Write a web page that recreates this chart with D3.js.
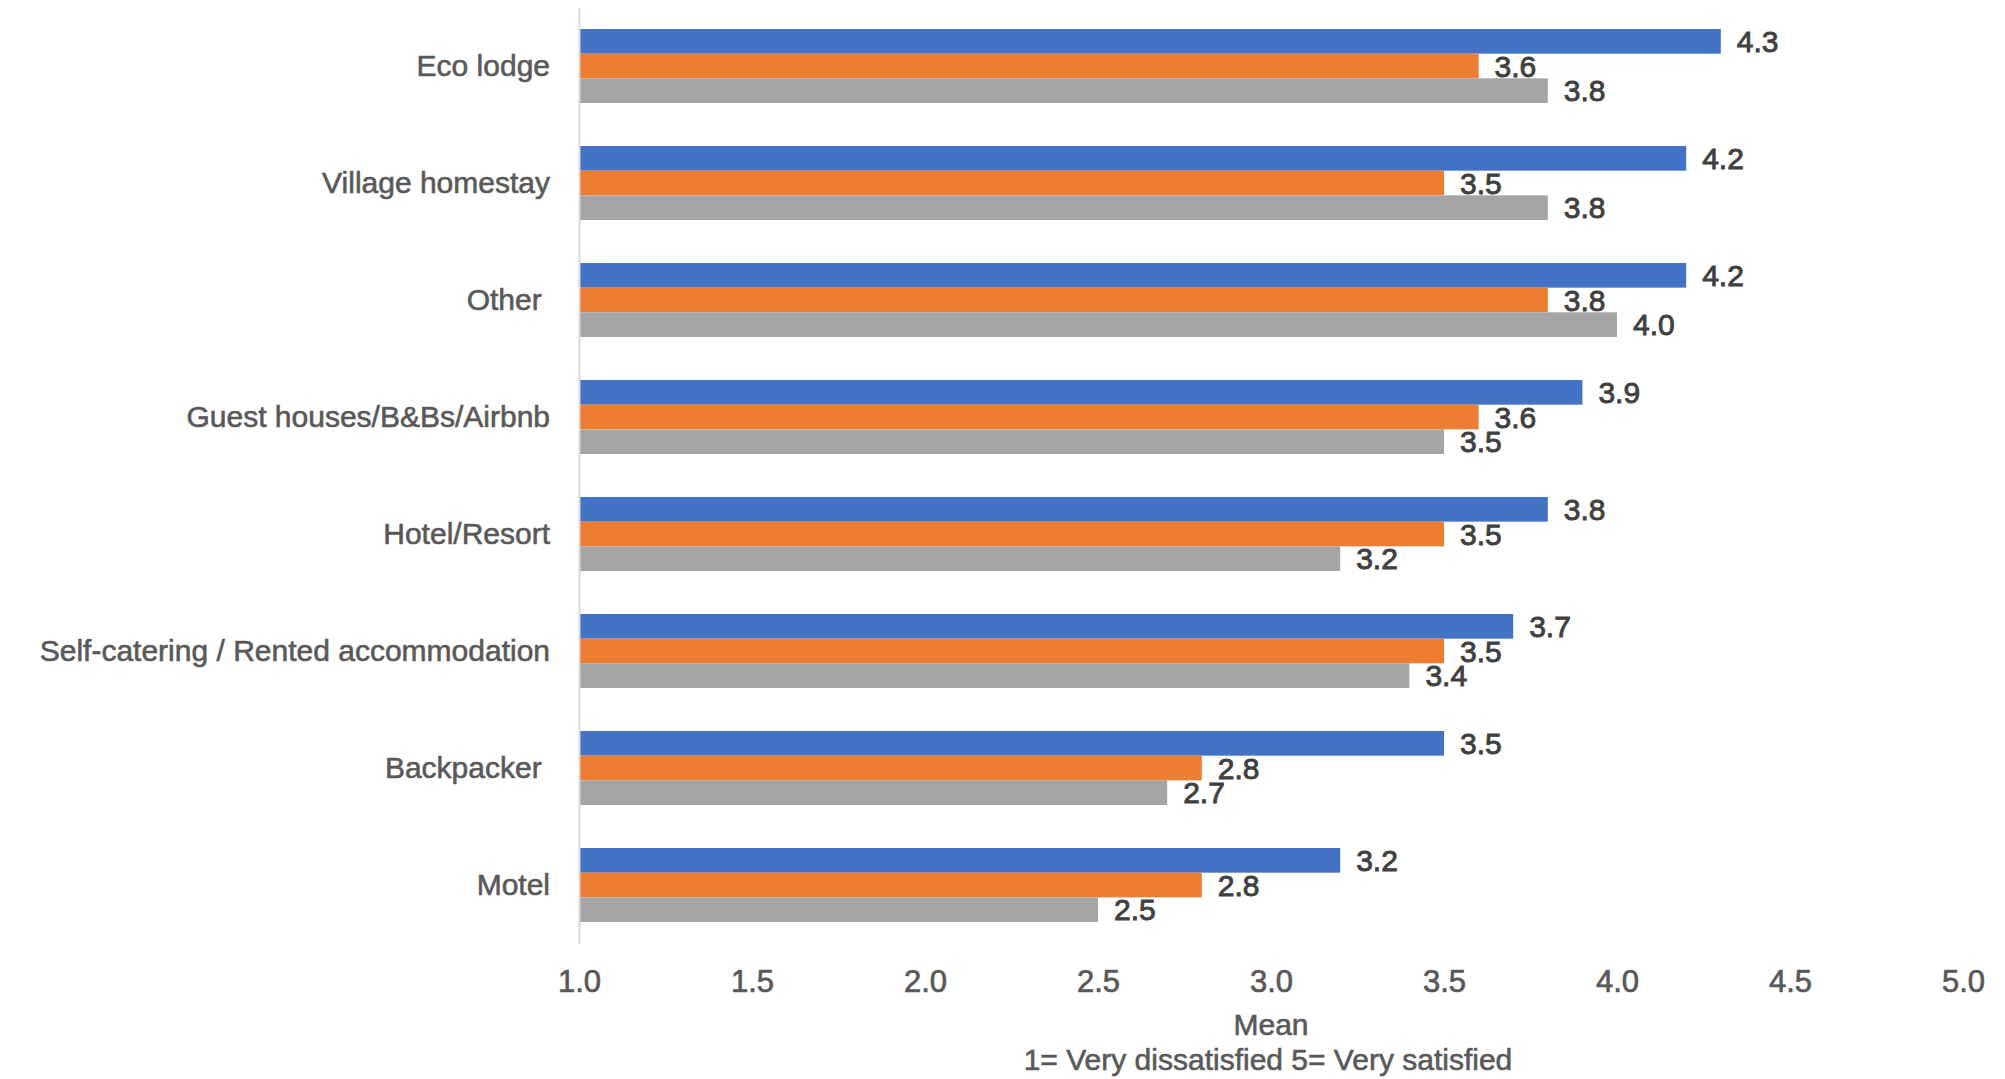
<!DOCTYPE html>
<html>
<head>
<meta charset="utf-8">
<script src="https://cdn.jsdelivr.net/npm/d3@7"></script>
<style>
  html, body { margin: 0; padding: 0; background: #ffffff; }
  svg { display: block; font-family: "Liberation Sans", Arial, sans-serif; }
  .cat text { white-space: pre; }
</style>
</head>
<body>
<svg id="chart" width="2005" height="1079"></svg>
<script>
// Accommodation types, top to bottom
const categories = [
  "Eco lodge",
  "Village homestay",
  "Other ",
  "Guest houses/B&Bs/Airbnb",
  "Hotel/Resort",
  "Self-catering / Rented accommodation",
  "Backpacker ",
  "Motel"
];

// Mean satisfaction per accommodation type, one array per series
const seriesBlue   = [4.3, 4.2, 4.2, 3.9, 3.8, 3.7, 3.5, 3.2];
const seriesOrange = [3.6, 3.5, 3.8, 3.6, 3.5, 3.5, 2.8, 2.8];
const seriesGrey   = [3.8, 3.8, 4.0, 3.5, 3.2, 3.4, 2.7, 2.5];

const seriesKeys = ["blue", "orange", "grey"];
const seriesColors = ["#4472C4", "#ED7D31", "#A5A5A5"];
const seriesValues = [seriesBlue, seriesOrange, seriesGrey];

// Value axis ticks
const xTicks = [1.0, 1.5, 2.0, 2.5, 3.0, 3.5, 4.0, 4.5, 5.0];
const axisTitle = "Mean";
const axisSubtitle = "1= Very dissatisfied 5= Very satisfied";

const svg = d3.select("#chart");

const plot = { left: 579, right: 1963, top: 7.5, bottom: 943.5 };

const x = d3.scaleLinear().domain([1, 5]).range([plot.left, plot.right]);

const y = d3.scaleBand()
  .domain(categories)
  .range([plot.top, plot.bottom])
  .paddingInner(0.3675)
  .paddingOuter(0.18375);

const ySub = d3.scaleBand()
  .domain(seriesKeys)
  .range([0, y.bandwidth()])
  .padding(0);

// Build rows: one entry per category and series
const rows = [];
categories.forEach((c, i) => {
  seriesKeys.forEach((k, j) => {
    rows.push({ cat: c, key: k, value: seriesValues[j][i], color: seriesColors[j] });
  });
});

// Bars
svg.append("g")
  .selectAll("rect")
  .data(rows)
  .join("rect")
  .attr("x", x(1))
  .attr("y", d => y(d.cat) + ySub(d.key))
  .attr("width", d => x(d.value) - x(1))
  .attr("height", ySub.bandwidth())
  .attr("fill", d => d.color);

// Value labels at the end of each bar
svg.append("g")
  .selectAll("text")
  .data(rows)
  .join("text")
  .attr("x", d => x(d.value) + 16)
  .attr("y", d => y(d.cat) + ySub(d.key) + ySub.bandwidth() / 2)
  .attr("dy", "0.355em")
  .attr("font-size", 30)
  .attr("fill", "#404040")
  .attr("stroke", "#404040")
  .attr("stroke-width", 0.9)
  .text(d => d.value.toFixed(1));

// Category axis (vertical line + labels)
const yAxis = svg.append("g")
  .attr("class", "cat")
  .attr("transform", `translate(${plot.left},0)`)
  .call(d3.axisLeft(y).tickSize(0).tickSizeOuter(0).tickPadding(29));
yAxis.select(".domain").attr("stroke", "#D9D9D9").attr("stroke-width", 2);
yAxis.selectAll("text")
  .attr("font-size", 30)
  .attr("font-family", "Liberation Sans, Arial, sans-serif")
  .attr("fill", "#595959")
  .attr("stroke", "#595959")
  .attr("stroke-width", 0.6);

// Value axis (tick labels only)
const xAxis = svg.append("g")
  .attr("transform", "translate(0,970)")
  .call(d3.axisBottom(x).tickValues(xTicks).tickFormat(d3.format(".1f")).tickSize(0).tickPadding(0));
xAxis.select(".domain").remove();
xAxis.selectAll("text")
  .attr("font-size", 31)
  .attr("font-family", "Liberation Sans, Arial, sans-serif")
  .attr("fill", "#595959")
  .attr("stroke", "#595959")
  .attr("stroke-width", 0.7);

// Axis titles
const midX = (plot.left + plot.right) / 2;
const titles = svg.append("g")
  .attr("text-anchor", "middle")
  .attr("font-size", 30)
  .attr("fill", "#595959")
  .attr("stroke", "#595959")
  .attr("stroke-width", 0.6);
titles.append("text")
  .attr("x", midX)
  .attr("y", 1035)
  .text(axisTitle);
titles.append("text")
  .attr("x", midX - 3)
  .attr("y", 1070)
  .text(axisSubtitle);
</script>
</body>
</html>
